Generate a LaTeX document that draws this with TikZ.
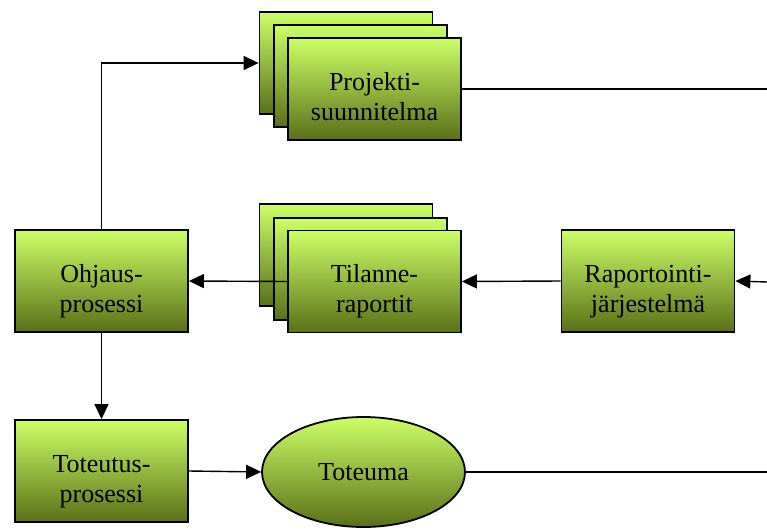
\documentclass[tikz,border=0pt]{standalone}
\usepackage{fontspec}
\setmainfont{Liberation Serif}
\usetikzlibrary{arrows.meta}
\usetikzlibrary{shapes}

\definecolor{lightgreen}{RGB}{204,255,102}
\definecolor{darkolive}{RGB}{90,112,24}

\begin{document}
\begin{tikzpicture}[x=1pt,y=-1pt,
    box/.style={rectangle,draw=black,line width=1.8pt,top color=lightgreen,bottom color=darkolive,
      minimum width=173pt,minimum height=102pt,inner sep=0pt,align=center,
      text height=62pt,text depth=0pt,
      font=\fontsize{26}{30}\selectfont},
    oval/.style={ellipse,draw=black,line width=1.8pt,top color=lightgreen,bottom color=darkolive,
      minimum width=203pt,minimum height=110pt,inner sep=0pt,
      font=\fontsize{26}{30}\selectfont},
    conn/.style={draw=black,line width=1.4pt},
    arr/.style={conn,-{Triangle[length=15pt,width=14pt]}}]
  \useasboundingbox (0,0) rectangle (767,530);

  % projektisuunnitelma stack
  \node[box] (proj3) at (346,63) {};
  \node[box] (proj2) at (360.5,76) {};
  \node[box] (proj1) at (374.5,89) {Projekti-\\suunnitelma};

  % tilanneraportit stack
  \node[box] (tila3) at (346,255) {};
  \node[box] (tila2) at (360.5,269) {};
  \node[box] (tila1) at (374.5,281.5) {Tilanne-\\raportit};

  \node[box] (ohj) at (101.5,281) {Ohjaus-\\prosessi};
  \node[box] (rap) at (648,281) {Raportointi-\\järjestelmä};
  \node[box] (tot) at (101.5,471) {Toteutus-\\prosessi};
  \node[oval] (totm) at (363.5,472) {Toteuma};

  \coordinate (e1) at (767,89);
  \coordinate (e2) at (767,282);
  \coordinate (e3) at (767,472);

  \begin{scope}[every path/.style={conn}]
    \path (proj1.east) edge (e1);
    \path (totm.east) edge (e3);
  \end{scope}
  \draw[arr] (e2) -- (rap.east);
  \draw[arr] (rap.west) -- (tila1.east);
  \draw[arr] (tila1.west) -- (ohj.east);
  \draw[arr] (ohj.north) |- (proj3.west);
  \draw[arr] (ohj.south) -- (tot.north);
  \draw[arr] (tot.east) -- (totm.west);
\end{tikzpicture}
\end{document}
